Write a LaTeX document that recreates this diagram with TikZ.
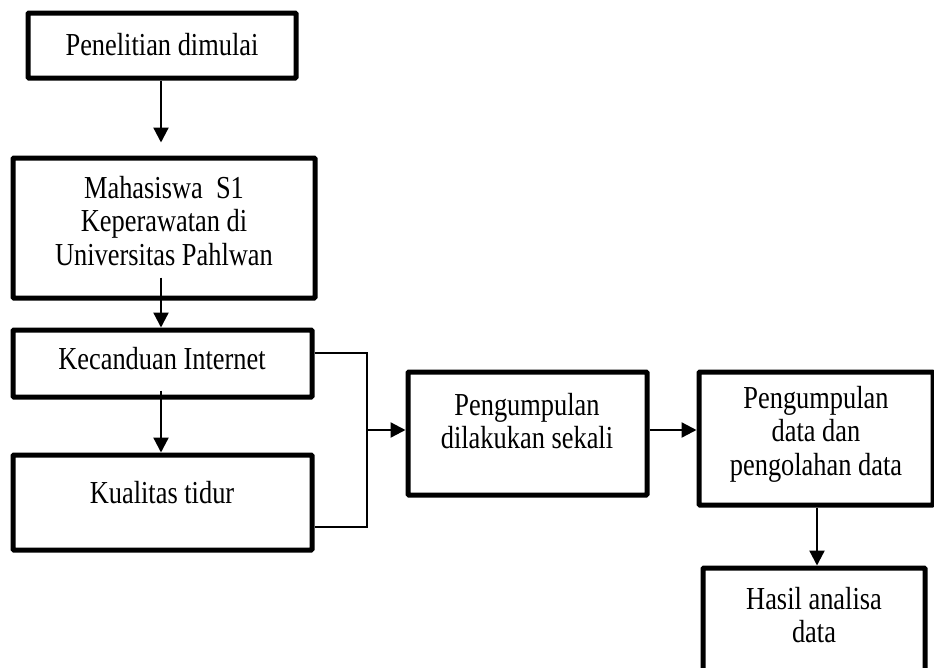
\documentclass[tikz,border=0pt]{standalone}
\usepackage{fontspec}
\setmainfont{Liberation Serif}
\newfontfamily\tallfont[FakeStretch=0.825]{Liberation Serif}
\usetikzlibrary{arrows.meta}
\tikzset{
  box/.style={draw=black, line width=5pt, rounded corners=1pt, inner sep=0pt, fill=white},
  txt/.style={align=center, inner sep=0pt, font=\tallfont\fontsize{32}{33.5}\selectfont},
  arr/.style={line width=2.3pt, -{Triangle[length=15pt,width=15pt]}},
  thin/.style={line width=1.4pt}
}
\begin{document}
\begin{tikzpicture}[x=1pt,y=-1pt]
\useasboundingbox (0,0) rectangle (934,667);
\clip (0,0) rectangle (934,667);
\fill[white] (0,0) rectangle (934,667);
% boxes
\node[box, minimum width=268pt, minimum height=65pt] (b1) at (162,45.5) {};
\node[box, minimum width=302pt, minimum height=140pt] (b2) at (164,228) {};
\node[box, minimum width=299pt, minimum height=67pt] (b3) at (162.5,363.5) {};
\node[box, minimum width=299pt, minimum height=95pt] (b4) at (162.5,502.5) {};
\node[box, minimum width=239pt, minimum height=123pt] (b5) at (527.5,433.5) {};
\node[box, minimum width=234pt, minimum height=133pt] (b6) at (816,438.5) {};
\node[box, minimum width=222pt, minimum height=122pt] (b7) at (814,629) {};
% texts
\node[txt] (t1) at (162,45) {Penelitian dimulai};
\node[txt] (t2) at (164,221) {Mahasiswa\ \ S1\\Keperawatan di\\Universitas Pahlwan};
\node[txt] (t3) at (162,359) {Kecanduan Internet};
\node[txt] (t4) at (162,493) {Kualitas tidur};
\node[txt] (t5) at (527,421) {Pengumpulan\\dilakukan sekali};
\node[txt] (t6) at (816,434) {Pengumpulan\\data dan\\pengolahan data};
\node[txt] (t7) at (814,615) {Hasil analisa\\data};
% connectors
\coordinate (a1) at (161,158);
\draw[arr] (b1.south -| a1) -- ([yshift=13pt]b2.north -| a1);
\draw[arr] ([yshift=23pt]b2.south -| a1) -- (b3.north -| a1);
\draw[arr] ([yshift=9pt]b3.south -| a1) -- (b4.north -| a1);
\coordinate (j) at (367,430);
\coordinate (jt) at (367,353);
\coordinate (jb) at (367,527);
\draw[thin] (b3.east |- jt) -- (jt) -- (jb) -- (b4.east |- jb);
\draw[arr] (j) -- (b5.west |- j);
\draw[arr] (b5.east |- j) -- (b6.west |- j);
\coordinate (a2) at (817,505);
\draw[arr] (b6.south -| a2) -- (b7.north -| a2);
\end{tikzpicture}
\end{document}
